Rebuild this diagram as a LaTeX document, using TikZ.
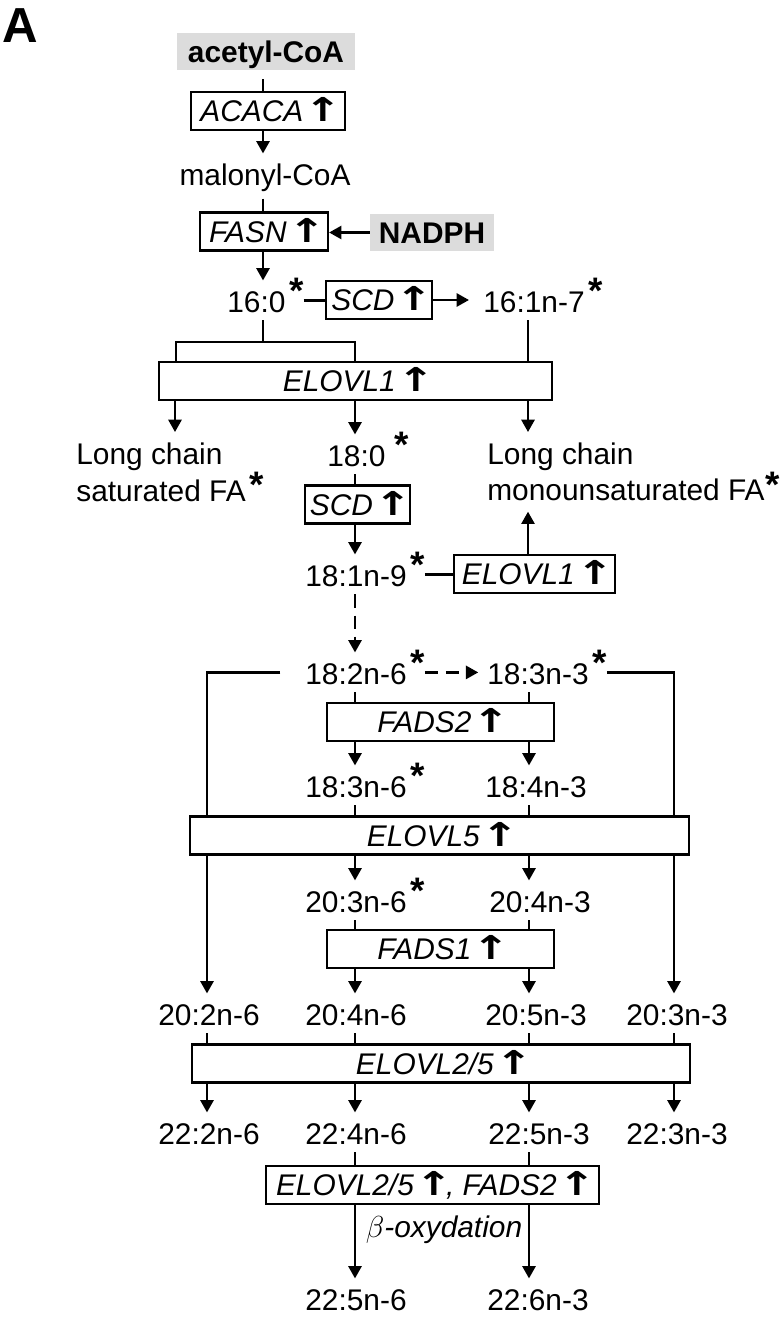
\documentclass[tikz,border=0pt]{standalone}
\usepackage{fontspec}
\setmainfont{Liberation Sans}
\newfontfamily\symfont{DejaVu Sans}
\usetikzlibrary{arrows.meta,positioning}
\definecolor{shade}{HTML}{DCDCDC}
\newdimen\pxu \pxu=0.02cm
\newcommand{\up}{\makebox[0.8em]{\scalebox{1.5}[1.1]{\symfont\bfseries ↑}}}
\newcommand{\sast}[1][5pt]{\hspace{2pt}\raisebox{#1}{\fontsize{21}{21}\selectfont\bfseries *}}
\tikzset{
  metab/.style={font=\fontsize{17}{19}\selectfont,inner xsep=0pt,inner ysep=0pt,
    text height=17.8pt,text depth=4.6pt},
  lchain/.style={font=\fontsize{17}{18.7}\selectfont,align=left,inner xsep=0pt,inner ysep=6pt},
  enzyme/.style={draw,line width=1.3pt,font=\fontsize{17}{19}\selectfont\itshape,
    minimum height=38\pxu,inner xsep=2pt,inner ysep=0pt,text height=12.2pt,text depth=0pt},
  source/.style={fill=shade,font=\fontsize{17}{19}\selectfont\bfseries,
    minimum height=37\pxu,inner xsep=0pt,text height=12.2pt,text depth=0pt},
  link/.style={line width=1.3pt},
  arrow/.style={link,-{Triangle[length=7pt,width=7.5pt]}},
  dasharrow/.style={arrow,dash pattern=on 7.5pt off 4.5pt}
}
\begin{document}
\begin{tikzpicture}[x=0.02cm,y=-0.02cm]
\useasboundingbox (0,0) rectangle (779,1318);
% columns
\coordinate (cM) at (263,0);
\coordinate (cL) at (175,0);
\coordinate (cLL) at (207,0);
\coordinate (cA) at (355,0);
\coordinate (cE) at (528,0);
\coordinate (cB) at (529,0);
\coordinate (cRR) at (674,0);

\node[font=\fontsize{28}{30}\selectfont\bfseries] (panel) at (20,26) {A};

% de novo synthesis
\node[source,minimum width=178\pxu] (acetyl) at (266,51.5) {acetyl-CoA};
\node[enzyme,minimum width=154\pxu] (acaca) at (268,111) {ACACA \up};
\node[metab,anchor=base] (malonyl) at (265,185) {malonyl-CoA};
\node[enzyme,minimum width=128\pxu] (fasn) at (264,231.5) {FASN \up};
\node[source,minimum width=124\pxu] (nadph) at (432,232.5) {NADPH};
\node[metab,anchor=base west] (fa160) at (227,312) {16:0\sast};
\node[enzyme,minimum width=106\pxu] (scda) at (379,300) {SCD \up};
\node[metab,anchor=base west] (fa161n7) at (483,312) {16:1n-7\sast};
\draw[link,shorten <=5pt] (acetyl.south -| cM) -- (acaca.north -| cM);
\draw[arrow] (acaca.south -| cM) -- (malonyl.north -| cM);
\draw[link,shorten <=3pt] (malonyl.south -| cM) -- (fasn.north -| cM);
\draw[arrow] (nadph.west) -- (fasn.east |- nadph.west);
\draw[arrow] (fasn.south -| cM) -- (fa160.north -| cM);
\draw[link] (fa160.east) -- (scda.west |- fa160.east);
\draw[arrow,shorten >=8pt] (scda.east) -- (fa161n7.west |- scda.east);

% elongation / desaturation of 16:0
\node[enzyme,minimum width=393\pxu] (elovla) at (355.5,381) {ELOVL1 \up};
\coordinate (bl) at (176,342);
\coordinate (br) at (355,342);
\draw[link] (fa160.south -| cM) -- (cM |- bl);
\draw[link] (bl |- elovla.north) -- (bl) -- (br) -- (br |- elovla.north);
\draw[link] (fa161n7.south -| cE) -- (cE |- elovla.north);
\node[lchain,anchor=north west] (satfa) at (76,432) {Long chain\\saturated FA\sast[2pt]};
\node[metab,anchor=base west] (fa180) at (327,466) {18:0\hspace{3pt}\sast};
\node[lchain,anchor=north west] (monofa) at (487,432) {Long chain\\monounsaturated FA\hspace{-1.5pt}\sast[1.5pt]};
\draw[arrow] (elovla.south -| cL) -- (satfa.north -| cL);
\draw[arrow] (elovla.south -| cA) -- (fa180.north -| cA);
\draw[arrow] (elovla.south -| cE) -- (monofa.north -| cE);

\node[enzyme,minimum width=105\pxu] (scdb) at (357.5,504.5) {SCD \up};
\node[metab,anchor=base west] (fa181n9) at (305,586) {18:1n-9\sast};
\node[enzyme,minimum width=161\pxu] (elovlb) at (534.5,574) {ELOVL1 \up};
\draw[link] (fa180.south -| cA) -- (scdb.north -| cA);
\draw[arrow] (scdb.south -| cA) -- (fa181n9.north -| cA);
\draw[link] (fa181n9.east) -- (elovlb.west |- fa181n9.east);
\draw[arrow] (elovlb.north -| cE) -- (monofa.south -| cE);

% n-6 and n-3 series
\node[metab,anchor=base west] (fa182n6) at (305,684) {18:2n-6\sast};
\node[metab,anchor=base west] (fa183n3) at (487,684) {18:3n-3\sast};
\draw[dasharrow] (fa181n9.south -| cA) -- (fa182n6.north -| cA);
\draw[dasharrow,shorten >=5pt] (fa182n6.east) -- (fa183n3.west);
\node[enzyme,minimum width=227\pxu] (fads2) at (440.5,722) {FADS2 \up};
\draw[link] (fa182n6.south -| cA) -- (fads2.north -| cA);
\draw[link] (fa183n3.south -| cB) -- (fads2.north -| cB);
\node[metab,anchor=base west] (fa183n6) at (305,797) {18:3n-6\sast};
\node[metab,anchor=base west] (fa184n3) at (485,797) {18:4n-3};
\draw[arrow] (fads2.south -| cA) -- (fa183n6.north -| cA);
\draw[arrow] (fads2.south -| cB) -- (fa184n3.north -| cB);
\node[enzyme,minimum width=499\pxu] (elovlv) at (439.5,835.5) {ELOVL5 \up};
\draw[link] (fa183n6.south -| cA) -- (elovlv.north -| cA);
\draw[link] (fa184n3.south -| cB) -- (elovlv.north -| cB);
\draw[link,shorten <=14pt] (fa182n6.west) -- (fa182n6.west -| cLL) -- (cLL |- elovlv.north);
\draw[link] (fa183n3.east) -- (fa183n3.east -| cRR) -- (cRR |- elovlv.north);

\node[metab,anchor=base west] (fa203n6) at (305,912) {20:3n-6\sast};
\node[metab,anchor=base west] (fa204n3) at (489,912) {20:4n-3};
\draw[arrow] (elovlv.south -| cA) -- (fa203n6.north -| cA);
\draw[arrow] (elovlv.south -| cB) -- (fa204n3.north -| cB);
\node[enzyme,minimum width=227\pxu] (fads1) at (440.5,949) {FADS1 \up};
\draw[link] (fa203n6.south -| cA) -- (fads1.north -| cA);
\draw[link] (fa204n3.south -| cB) -- (fads1.north -| cB);

\node[metab,anchor=base west] (fa202n6) at (158,1025) {20:2n-6};
\node[metab,anchor=base west] (fa204n6) at (305,1025) {20:4n-6};
\node[metab,anchor=base west] (fa205n3) at (485,1025) {20:5n-3};
\node[metab,anchor=base west] (fa203n3) at (626,1025) {20:3n-3};
\draw[arrow] (fads1.south -| cA) -- (fa204n6.north -| cA);
\draw[arrow] (fads1.south -| cB) -- (fa205n3.north -| cB);
\draw[arrow] (elovlv.south -| cLL) -- (fa202n6.north -| cLL);
\draw[arrow] (elovlv.south -| cRR) -- (fa203n3.north -| cRR);

\node[enzyme,minimum width=498\pxu] (elovlw) at (441,1063.5) {ELOVL2/5 \up};
\node[metab,anchor=base west] (fa222n6) at (158,1144) {22:2n-6};
\node[metab,anchor=base west] (fa224n6) at (305,1144) {22:4n-6};
\node[metab,anchor=base west] (fa225n3) at (488,1144) {22:5n-3};
\node[metab,anchor=base west] (fa223n3) at (626,1144) {22:3n-3};
\foreach \fa/\col in {fa202n6/cLL,fa204n6/cA,fa205n3/cB,fa203n3/cRR}
  \draw[link] (\fa.south -| \col) -- (elovlw.north -| \col);
\foreach \fa/\col in {fa222n6/cLL,fa224n6/cA,fa225n3/cB,fa223n3/cRR}
  \draw[arrow] (elovlw.south -| \col) -- (\fa.north -| \col);

% retroconversion
\node[enzyme,minimum width=333\pxu] (elfa) at (432.5,1185) {ELOVL2/5 \up, FADS2 \up};
\node[metab,anchor=base west] (fa225n6) at (305,1310) {22:5n-6};
\node[metab,anchor=base west] (fa226n3) at (487,1310) {22:6n-3};
\draw[link] (fa224n6.south -| cA) -- (elfa.north -| cA);
\draw[link] (fa225n3.south -| cB) -- (elfa.north -| cB);
\draw[arrow] (elfa.south -| cA) -- (fa225n6.north -| cA);
\draw[arrow] (elfa.south -| cB) -- (fa226n3.north -| cB);
\node[font=\fontsize{17}{19}\selectfont\itshape] (betaox) at (444,1230) {$\beta$-oxydation};
\end{tikzpicture}
\end{document}
